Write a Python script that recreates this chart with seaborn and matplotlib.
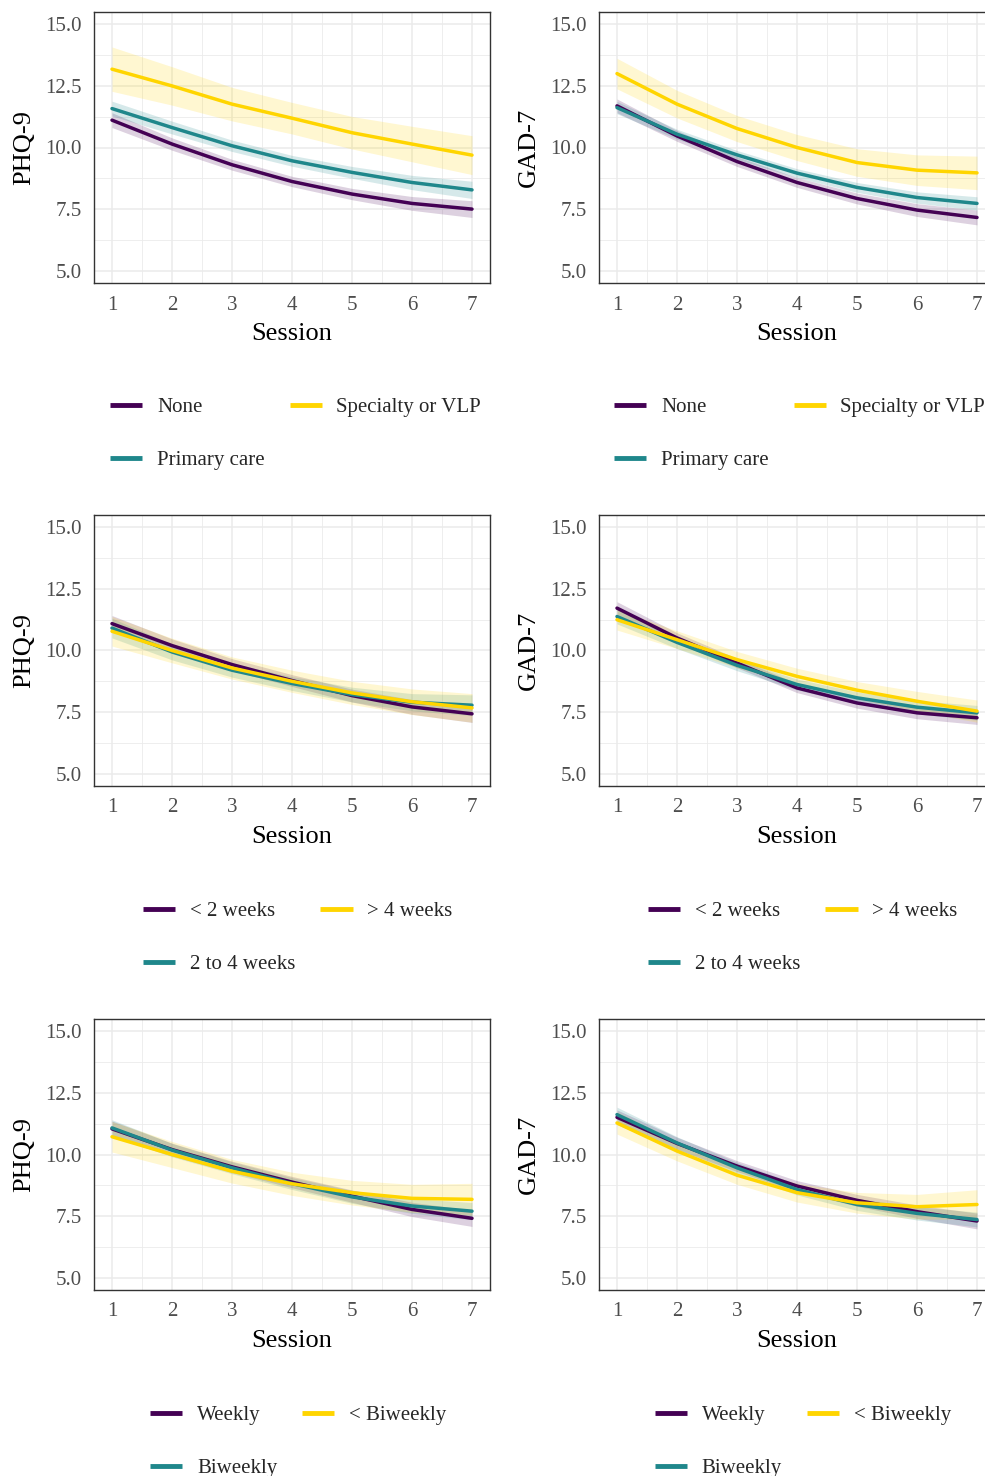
import matplotlib
matplotlib.use("Agg")
import matplotlib.pyplot as plt
from matplotlib.lines import Line2D
from matplotlib.ticker import MultipleLocator
import numpy as np
import pandas as pd
import seaborn as sns

sessions = [1, 2, 3, 4, 5, 6, 7]

# Row 1: referral type
ref_groups = ["None", "Primary care", "Specialty or VLP"]
phq_ref_none = [11.11, 10.14, 9.30, 8.62, 8.11, 7.73, 7.50]
phq_ref_pc = [11.58, 10.81, 10.07, 9.46, 8.99, 8.58, 8.28]
phq_ref_spec = [13.18, 12.50, 11.76, 11.19, 10.60, 10.14, 9.69]
phq_ref_none_hw = [0.30, 0.25, 0.22, 0.21, 0.23, 0.28, 0.34]
phq_ref_pc_hw = [0.30, 0.26, 0.23, 0.22, 0.24, 0.29, 0.35]
phq_ref_spec_hw = [0.90, 0.78, 0.68, 0.64, 0.66, 0.72, 0.79]

gad_ref_none = [11.69, 10.47, 9.43, 8.58, 7.93, 7.46, 7.16]
gad_ref_pc = [11.62, 10.54, 9.70, 8.96, 8.38, 7.97, 7.73]
gad_ref_spec = [13.00, 11.76, 10.77, 10.00, 9.39, 9.08, 8.97]
gad_ref_none_hw = [0.28, 0.22, 0.20, 0.20, 0.22, 0.26, 0.30]
gad_ref_pc_hw = [0.25, 0.20, 0.18, 0.18, 0.20, 0.23, 0.27]
gad_ref_spec_hw = [0.62, 0.56, 0.53, 0.53, 0.56, 0.62, 0.68]

# Row 2: wait time
wait_groups = ["< 2 weeks", "2 to 4 weeks", "> 4 weeks"]
phq_wait_lt2 = [11.09, 10.20, 9.43, 8.78, 8.17, 7.71, 7.43]
phq_wait_2to4 = [10.91, 9.94, 9.20, 8.66, 8.21, 7.90, 7.78]
phq_wait_gt4 = [10.78, 10.00, 9.29, 8.75, 8.28, 7.92, 7.67]
phq_wait_lt2_hw = [0.33, 0.27, 0.24, 0.24, 0.26, 0.30, 0.35]
phq_wait_2to4_hw = [0.40, 0.32, 0.28, 0.28, 0.30, 0.35, 0.42]
phq_wait_gt4_hw = [0.60, 0.50, 0.45, 0.45, 0.47, 0.52, 0.58]

gad_wait_lt2 = [11.72, 10.51, 9.49, 8.48, 7.87, 7.47, 7.27]
gad_wait_2to4 = [11.38, 10.33, 9.40, 8.62, 8.08, 7.70, 7.47]
gad_wait_gt4 = [11.25, 10.44, 9.63, 8.95, 8.39, 7.94, 7.54]
gad_wait_lt2_hw = [0.26, 0.21, 0.19, 0.19, 0.21, 0.24, 0.27]
gad_wait_2to4_hw = [0.30, 0.25, 0.22, 0.22, 0.24, 0.27, 0.30]
gad_wait_gt4_hw = [0.42, 0.36, 0.33, 0.33, 0.35, 0.40, 0.45]

# Row 3: session frequency
freq_groups = ["Weekly", "Biweekly", "< Biweekly"]
phq_freq_wk = [11.04, 10.20, 9.50, 8.88, 8.31, 7.77, 7.41]
phq_freq_bi = [11.08, 10.18, 9.46, 8.82, 8.28, 7.91, 7.70]
phq_freq_lt = [10.72, 10.00, 9.32, 8.81, 8.45, 8.22, 8.18]
phq_freq_wk_hw = [0.32, 0.26, 0.23, 0.23, 0.25, 0.29, 0.33]
phq_freq_bi_hw = [0.33, 0.27, 0.24, 0.24, 0.26, 0.30, 0.35]
phq_freq_lt_hw = [0.62, 0.53, 0.48, 0.47, 0.50, 0.57, 0.65]

gad_freq_wk = [11.51, 10.45, 9.53, 8.72, 8.14, 7.68, 7.30]
gad_freq_bi = [11.62, 10.47, 9.46, 8.58, 7.97, 7.61, 7.36]
gad_freq_lt = [11.28, 10.14, 9.16, 8.45, 8.04, 7.88, 7.97]
gad_freq_wk_hw = [0.30, 0.25, 0.22, 0.22, 0.24, 0.27, 0.32]
gad_freq_bi_hw = [0.30, 0.25, 0.22, 0.22, 0.24, 0.27, 0.30]
gad_freq_lt_hw = [0.45, 0.40, 0.37, 0.38, 0.42, 0.50, 0.60]

y_ticks = [5.0, 7.5, 10.0, 12.5, 15.0]
y_tick_labels = ["5.0", "7.5", "10.0", "12.5", "15.0"]
palette = ["#440154", "#1F878B", "#FFD500"]

panels = [
    ("PHQ-9", ref_groups, [phq_ref_none, phq_ref_pc, phq_ref_spec],
     [phq_ref_none_hw, phq_ref_pc_hw, phq_ref_spec_hw]),
    ("GAD-7", ref_groups, [gad_ref_none, gad_ref_pc, gad_ref_spec],
     [gad_ref_none_hw, gad_ref_pc_hw, gad_ref_spec_hw]),
    ("PHQ-9", wait_groups, [phq_wait_lt2, phq_wait_2to4, phq_wait_gt4],
     [phq_wait_lt2_hw, phq_wait_2to4_hw, phq_wait_gt4_hw]),
    ("GAD-7", wait_groups, [gad_wait_lt2, gad_wait_2to4, gad_wait_gt4],
     [gad_wait_lt2_hw, gad_wait_2to4_hw, gad_wait_gt4_hw]),
    ("PHQ-9", freq_groups, [phq_freq_wk, phq_freq_bi, phq_freq_lt],
     [phq_freq_wk_hw, phq_freq_bi_hw, phq_freq_lt_hw]),
    ("GAD-7", freq_groups, [gad_freq_wk, gad_freq_bi, gad_freq_lt],
     [gad_freq_wk_hw, gad_freq_bi_hw, gad_freq_lt_hw]),
]

sns.set_theme(style="white")
plt.rcParams["font.family"] = ["Liberation Serif", "DejaVu Serif"]

W, H = 985, 1476
fig = plt.figure(figsize=(W / 100, H / 100), dpi=100)

col_left = [94, 599]
ax_w = 396
row_top = [12, 515, 1019]
ax_h = 271
legend_x = [[110, 614], [143, 648], [150, 655]]
legend_cy = [434, 938, 1442]

for i, (ylabel, groups, means, hws) in enumerate(panels):
    r, c = divmod(i, 2)
    left = col_left[c]
    top = row_top[r]
    ax = fig.add_axes([left / W, 1 - (top + ax_h) / H, ax_w / W, ax_h / H])
    rows = []
    for g, m in zip(groups, means):
        for s, v in zip(sessions, m):
            rows.append({"Session": s, "score": v, "group": g})
    df = pd.DataFrame(rows)
    for g, m, hw, col in zip(groups, means, hws, palette):
        lo = np.array(m) - np.array(hw)
        hi = np.array(m) + np.array(hw)
        ax.fill_between(sessions, lo, hi, color=col, alpha=0.18, linewidth=0, zorder=2)
    sns.lineplot(data=df, x="Session", y="score", hue="group", hue_order=groups,
                 palette=palette, linewidth=2.5, ax=ax, legend=False, zorder=3,
                 errorbar=None)
    ax.set_xlim(0.7, 7.3)
    ax.set_ylim(4.5, 15.5)
    ax.set_xticks(sessions)
    ax.set_xticklabels([str(s) for s in sessions])
    ax.set_yticks(y_ticks)
    ax.set_yticklabels(y_tick_labels)
    ax.xaxis.set_minor_locator(MultipleLocator(0.5))
    ax.yaxis.set_minor_locator(MultipleLocator(1.25))
    ax.grid(True, which="major", color="#EBEBEB", linewidth=1.1, zorder=0)
    ax.grid(True, which="minor", color="#EBEBEB", linewidth=0.6, zorder=0)
    ax.set_axisbelow(True)
    for sp in ax.spines.values():
        sp.set_color("#333333")
        sp.set_linewidth(1.0)
    ax.tick_params(axis="both", which="major", length=4, width=1, color="#333333",
                   labelsize=15, labelcolor="#4D4D4D", pad=5, direction="out")
    ax.tick_params(axis="both", which="minor", length=0)
    ax.set_xlabel("Session", fontsize=19, color="black", labelpad=6)
    ax.set_ylabel(ylabel, fontsize=19, color="black", labelpad=7)

    handles = [Line2D([0], [0], color=col, linewidth=3.5, solid_capstyle="butt")
               for col in palette]
    fig.legend(handles, groups, loc="center left",
               bbox_to_anchor=(legend_x[r][c] / W, 1 - legend_cy[r] / H),
               ncol=2, frameon=False, fontsize=15, handlelength=1.55,
               handletextpad=0.7, columnspacing=1.2, labelspacing=1.6,
               borderpad=0, borderaxespad=0)

fig.savefig("out.png", dpi=100, facecolor="white")
